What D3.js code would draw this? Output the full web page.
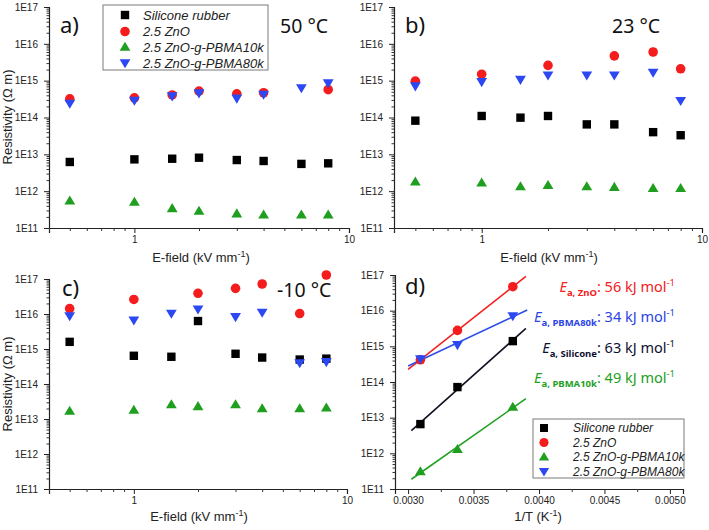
<!DOCTYPE html>
<html><head><meta charset="utf-8">
<script src="https://cdn.jsdelivr.net/npm/d3@7"></script>
<style>
html,body{margin:0;padding:0;background:#fff;}
svg{display:block;}
.tick text{font-family:"Liberation Sans",Arial,sans-serif;}
</style></head>
<body>
<svg id="chart" width="709" height="530"></svg>
<script>
// ---------- DATA ----------
const seriesNames = ["Silicone rubber", "2.5 ZnO", "2.5 ZnO-g-PBMA10k", "2.5 ZnO-g-PBMA80k"];
const efield = [0.5, 1, 1.5, 2, 3, 4, 6, 8];

// a) 50 °C
const a_silicone = [6.2e12, 7.3e12, 7.6e12, 8.1e12, 7.0e12, 6.6e12, 5.5e12, 5.7e12];
const a_zno      = [3.2e14, 3.4e14, 4.1e14, 5.2e14, 4.4e14, 4.7e14, null, 5.7e14];
const a_p10k     = [5.5e11, 5.1e11, 3.4e11, 2.9e11, 2.45e11, 2.3e11, 2.3e11, 2.3e11];
const a_p80k     = [2.4e14, 2.9e14, 3.8e14, 4.6e14, 3.3e14, 4.2e14, 6.3e14, 8.6e14];
// b) 23 °C
const b_silicone = [8.2e13, 1.1e14, 9.9e13, 1.1e14, 6.5e13, 6.5e13, 4.0e13, 3.3e13];
const b_zno      = [9.7e14, 1.5e15, null, 2.6e15, null, 4.7e15, 6.0e15, 2.1e15];
const b_p10k     = [1.8e12, 1.7e12, 1.34e12, 1.45e12, 1.34e12, 1.29e12, 1.2e12, 1.2e12];
const b_p80k     = [7.1e14, 9.3e14, 1.07e15, 1.4e15, 1.4e15, 1.4e15, 1.67e15, 2.85e14];
// c) -10 °C
const c_silicone = [1.6e15, 6.4e14, 6.0e14, 6.3e15, 7.3e14, 5.7e14, 5.0e14, 5.3e14];
const c_zno      = [1.43e16, 2.6e16, null, 3.9e16, 5.4e16, 7.2e16, 1.03e16, 1.3e17];
const c_p10k     = [1.7e13, 1.8e13, 2.6e13, 2.3e13, 2.6e13, 2.0e13, 2.0e13, 2.1e13];
const c_p80k     = [8.8e15, 6.6e15, 1.03e16, 1.37e16, 8.3e15, 1.1e16, 4.0e14, 4.3e14];
// d) Arrhenius
const invT       = [0.003094, 0.003377, 0.0038];
const d_silicone = [6.6e12, 7.2e13, 1.4e15];
const d_zno      = [4.2e14, 2.8e15, 4.7e16];
const d_p10k     = [3.1e11, 1.3e12, 2.0e13];
const d_p80k     = [4.4e14, 1.1e15, 7.1e15];
const fitRange_silicone = [0.003025, 0.0039];
const fitRange_zno      = [0.0030, 0.0039];
const fitRange_p10k     = [0.003025, 0.0039];
const fitRange_p80k     = [0.0030, 0.00391];
const activation = [
  {sub: "ZnO", val: "56"},
  {sub: "PBMA80k", val: "34"},
  {sub: "Silicone", val: "63"},
  {sub: "PBMA10k", val: "49"}
];
const yTickLabels = ["1E11", "1E12", "1E13", "1E14", "1E15", "1E16", "1E17"];
const dTicks = [0.0030, 0.0035, 0.0040, 0.0045, 0.0050];

// ---------- STYLE ----------
const colors = ["#000000", "#f41c1c", "#1f9e1f", "#2c48f2"];
const lineColors = ["#111122", "#f42020", "#22a022", "#2c4ee8"];
const annColors = ["#f42020", "#2c44e6", "#101030", "#22a022"];
const shapes = ["square", "circle", "up", "down"];
const tickFont = '"Liberation Sans", Arial, sans-serif';
const calFont = '"Noto Sans", "Open Sans", sans-serif';
const TICK_FS = 10;

const svg = d3.select("#chart");

function marker(g, shape, x, y, color, s) {
  s = s || 1;
  if (shape === "square") {
    g.append("rect").attr("x", x - 4.2*s).attr("y", y - 4.2*s).attr("width", 8.4*s).attr("height", 8.4*s).attr("fill", color);
  } else if (shape === "circle") {
    g.append("circle").attr("cx", x).attr("cy", y).attr("r", 4.8*s).attr("fill", color);
  } else if (shape === "up") {
    g.append("path").attr("d", `M${x},${y-5.3*s}L${x+5.4*s},${y+3.8*s}L${x-5.4*s},${y+3.8*s}Z`).attr("fill", color);
  } else {
    g.append("path").attr("d", `M${x},${y+5.3*s}L${x+5.4*s},${y-3.8*s}L${x-5.4*s},${y-3.8*s}Z`).attr("fill", color);
  }
}

function yAxis(g, y, x0) {
  const majors = d3.range(11, 18).map(e => Math.pow(10, e));
  const ax = d3.axisLeft(y).tickValues(majors).tickFormat((d, i) => yTickLabels[i]).tickSize(5).tickPadding(6);
  const gg = g.append("g").attr("transform", `translate(${x0},0)`).call(ax);
  gg.selectAll(".tick text").attr("font-size", TICK_FS).attr("fill", "#222");
  gg.select(".domain").attr("stroke", "#222").attr("stroke-width", 1.2);
  gg.selectAll(".tick line").attr("stroke", "#222");
  const minors = [];
  for (let e = 11; e < 17; e++) for (let m = 2; m <= 9; m++) minors.push(m * Math.pow(10, e));
  const ax2 = d3.axisLeft(y).tickValues(minors).tickFormat("").tickSize(2.5);
  const gm = g.append("g").attr("transform", `translate(${x0},0)`).call(ax2);
  gm.select(".domain").remove();
  gm.selectAll(".tick line").attr("stroke", "#333");
}

function logXAxis(g, x, y0) {
  const ax = d3.axisBottom(x).tickValues([1, 10]).tickFormat(d3.format("d")).tickSize(5).tickPadding(3);
  const gg = g.append("g").attr("transform", `translate(0,${y0})`).call(ax);
  gg.selectAll(".tick text").attr("font-size", TICK_FS).attr("fill", "#222");
  gg.select(".domain").attr("stroke", "#222").attr("stroke-width", 1.2);
  gg.selectAll(".tick line").attr("stroke", "#222");
  const minors = [0.4, 0.5, 0.6, 0.7, 0.8, 0.9, 2, 3, 4, 5, 6, 7, 8, 9].filter(v => v >= x.domain()[0]);
  const ax2 = d3.axisBottom(x).tickValues(minors).tickFormat("").tickSize(3);
  const gm = g.append("g").attr("transform", `translate(0,${y0})`).call(ax2);
  gm.select(".domain").remove();
  gm.selectAll(".tick line").attr("stroke", "#333");
}

function xTitle(g, cx, by, main) {
  const t = g.append("text").attr("x", cx).attr("y", by).attr("text-anchor", "middle")
    .attr("font-family", tickFont).attr("font-size", 13).attr("fill", "#222");
  t.append("tspan").text(main === "E" ? "E-field (kV mm" : "1/T (K");
  t.append("tspan").attr("dy", -5).attr("font-size", 9).text("-1");
  t.append("tspan").attr("dy", 5).text(")");
}

function yTitle(g, cx, cy) {
  g.append("text").attr("transform", `translate(${cx},${cy}) rotate(-90)`).attr("text-anchor", "middle")
    .attr("font-family", tickFont).attr("font-size", 13).attr("fill", "#222").text("Resistivity (Ω m)");
}

function legend(g, x0, y0, w, h, rowY, markX, textX, fs, ms) {
  g.append("rect").attr("x", x0).attr("y", y0).attr("width", w).attr("height", h)
    .attr("fill", "#fff").attr("stroke", "#7a7a7a").attr("stroke-width", 1);
  seriesNames.forEach((n, i) => {
    marker(g, shapes[i], markX, rowY[i], colors[i], ms);
    g.append("text").attr("x", textX).attr("y", rowY[i] + fs * 0.36).attr("font-family", tickFont)
      .attr("font-style", "italic").attr("font-size", fs).attr("fill", "#222").text(n);
  });
}

function label(g, x, y, txt, fs, anchor) {
  g.append("text").attr("x", x).attr("y", y).attr("font-family", calFont).attr("font-size", fs)
    .attr("fill", "#111").attr("text-anchor", anchor || "start").text(txt);
}

function efPanel(p) {
  const g = svg.append("g");
  const x = d3.scaleLog().domain([0.4, 10]).range([p.x0, p.x1]);
  const y = d3.scaleLog().domain([1e11, 1e17]).range([p.y1, p.y0]);
  yAxis(g, y, p.x0);
  logXAxis(g, x, p.y1);
  p.series.forEach((vals, si) => {
    vals.forEach((v, i) => { if (v != null) marker(g, shapes[si], x(efield[i]), y(v), colors[si]); });
  });
  return {g, x, y};
}

// ---------- PANEL a ----------
const pa = efPanel({x0: 49, x1: 349, y0: 7, y1: 228, series: [a_silicone, a_zno, a_p10k, a_p80k]});
yTitle(pa.g, 12, 117);
xTitle(pa.g, 201, 262, "E");
legend(pa.g, 103, 5, 165, 65, [15, 31.5, 47, 63], 125, 143, 13, 1);
label(pa.g, 60, 33, "a)", 22);
label(pa.g, 280, 33, "50 °C", 19.5);

// ---------- PANEL b ----------
const pb = efPanel({x0: 394, x1: 702, y0: 7, y1: 228, series: [b_silicone, b_zno, b_p10k, b_p80k]});
xTitle(pb.g, 549, 262, "E");
label(pb.g, 405, 33, "b)", 22);
label(pb.g, 612, 33, "23 °C", 19.5);

// ---------- PANEL c ----------
const pc = efPanel({x0: 49, x1: 347, y0: 279, y1: 489, series: [c_silicone, c_zno, c_p10k, c_p80k]});
yTitle(pc.g, 12, 384);
xTitle(pc.g, 199, 521, "E");
label(pc.g, 62, 296, "c)", 22);
label(pc.g, 277, 297, "-10 °C", 19.5);

// ---------- PANEL d ----------
(function () {
  const g = svg.append("g");
  const x0 = 395, x1 = 683, y0 = 275, y1 = 489;
  const x = d3.scaleLinear().domain([0.0029, 0.0051]).range([x0, x1]);
  const y = d3.scaleLog().domain([1e11, 1e17]).range([y1, y0]);
  yAxis(g, y, x0);
  const ax = d3.axisBottom(x).tickValues(dTicks).tickFormat(d3.format(".4f")).tickSize(5).tickPadding(3);
  const gg = g.append("g").attr("transform", `translate(0,${y1})`).call(ax);
  gg.selectAll(".tick text").attr("font-size", TICK_FS).attr("fill", "#222");
  gg.select(".domain").attr("stroke", "#222").attr("stroke-width", 1.2);
  gg.selectAll(".tick line").attr("stroke", "#222");
  const minors = [0.00325, 0.00375, 0.00425, 0.00475];
  const gm = g.append("g").attr("transform", `translate(0,${y1})`)
    .call(d3.axisBottom(x).tickValues(minors).tickFormat("").tickSize(3));
  gm.select(".domain").remove();
  gm.selectAll(".tick line").attr("stroke", "#333");

  const dSeries = [d_silicone, d_zno, d_p10k, d_p80k];
  const fits = [fitRange_silicone, fitRange_zno, fitRange_p10k, fitRange_p80k];
  // least-squares fit of log10(resistivity) vs 1/T
  dSeries.forEach((vals, si) => {
    const ly = vals.map(v => Math.log10(v));
    const mx = d3.mean(invT), my = d3.mean(ly);
    let sxy = 0, sxx = 0;
    invT.forEach((t, i) => { sxy += (t - mx) * (ly[i] - my); sxx += (t - mx) * (t - mx); });
    const slope = sxy / sxx, icpt = my - slope * mx;
    const pts = fits[si].map(t => [t, Math.pow(10, icpt + slope * t)]);
    g.append("path").attr("d", d3.line().x(d => x(d[0])).y(d => y(d[1]))(pts))
      .attr("stroke", lineColors[si]).attr("stroke-width", 1.6).attr("fill", "none");
  });
  dSeries.forEach((vals, si) => {
    vals.forEach((v, i) => marker(g, shapes[si], x(invT[i]), y(v), colors[si]));
  });
  legend(g, 533, 419, 151, 59, [428, 442.5, 457, 471.5], 544, 573, 12, 0.95);
  label(g, 405, 294, "d)", 22);
  xTitle(g, 538, 521, "1/T");

  const annY = [292, 322, 353, 383];
  activation.forEach((a, i) => {
    const t = g.append("text").attr("x", 675).attr("y", annY[i]).attr("text-anchor", "end")
      .attr("font-family", calFont).attr("font-size", 14.5).attr("fill", annColors[i]);
    t.append("tspan").attr("font-style", "italic").text("E");
    t.append("tspan").attr("dy", 4).attr("font-size", 9.5).attr("font-weight", "bold").text("a, " + a.sub);
    t.append("tspan").attr("dy", -4).text(": " + a.val + " kJ mol");
    t.append("tspan").attr("dy", -6).attr("font-size", 9.5).text("-1");
  });
})();
</script>
</body></html>
